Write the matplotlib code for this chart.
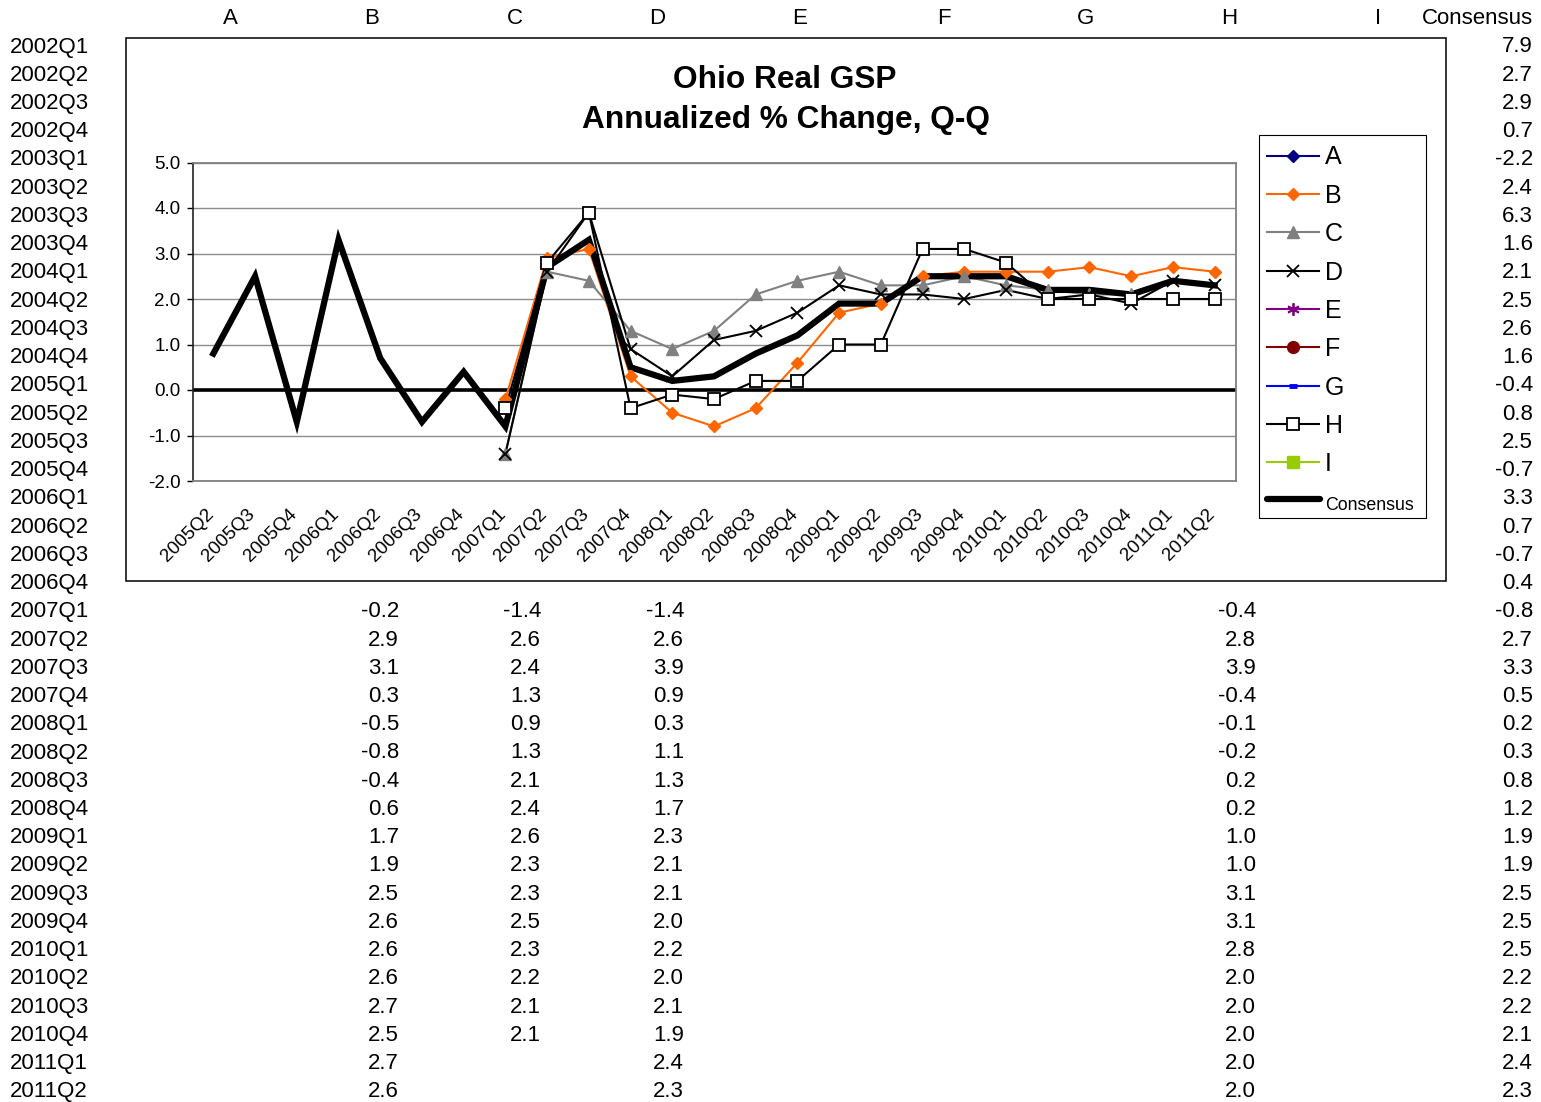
import matplotlib
matplotlib.use("Agg")
import matplotlib.pyplot as plt
import matplotlib.transforms as mtransforms
from matplotlib.patches import Rectangle
import numpy as np

plt.rcParams['font.family'] = ['Liberation Sans', 'DejaVu Sans']
plt.rcParams['axes.unicode_minus'] = False

# ---------------- data ----------------
quarters = ["2002Q1", "2002Q2", "2002Q3", "2002Q4", "2003Q1", "2003Q2", "2003Q3", "2003Q4",
            "2004Q1", "2004Q2", "2004Q3", "2004Q4", "2005Q1", "2005Q2", "2005Q3", "2005Q4",
            "2006Q1", "2006Q2", "2006Q3", "2006Q4", "2007Q1", "2007Q2", "2007Q3", "2007Q4",
            "2008Q1", "2008Q2", "2008Q3", "2008Q4", "2009Q1", "2009Q2", "2009Q3", "2009Q4",
            "2010Q1", "2010Q2", "2010Q3", "2010Q4", "2011Q1", "2011Q2"]
columns = ["A", "B", "C", "D", "E", "F", "G", "H", "I", "Consensus"]

consensus = [7.9, 2.7, 2.9, 0.7, -2.2, 2.4, 6.3, 1.6, 2.1, 2.5, 2.6, 1.6, -0.4, 0.8, 2.5, -0.7,
             3.3, 0.7, -0.7, 0.4, -0.8, 2.7, 3.3, 0.5, 0.2, 0.3, 0.8, 1.2, 1.9, 1.9, 2.5, 2.5,
             2.5, 2.2, 2.2, 2.1, 2.4, 2.3]
# forecasters, from 2007Q1 to 2011Q2
B = [-0.2, 2.9, 3.1, 0.3, -0.5, -0.8, -0.4, 0.6, 1.7, 1.9, 2.5, 2.6, 2.6, 2.6, 2.7, 2.5, 2.7, 2.6]
C = [-1.4, 2.6, 2.4, 1.3, 0.9, 1.3, 2.1, 2.4, 2.6, 2.3, 2.3, 2.5, 2.3, 2.2, 2.1, 2.1, None, None]
D = [-1.4, 2.6, 3.9, 0.9, 0.3, 1.1, 1.3, 1.7, 2.3, 2.1, 2.1, 2.0, 2.2, 2.0, 2.1, 1.9, 2.4, 2.3]
H = [-0.4, 2.8, 3.9, -0.4, -0.1, -0.2, 0.2, 0.2, 1.0, 1.0, 3.1, 3.1, 2.8, 2.0, 2.0, 2.0, 2.0, 2.0]

chart_start = "2005Q2"
fc_start = "2007Q1"

# ---------------- figure ----------------
W, Hpx = 1541, 1102
fig = plt.figure(figsize=(W / 100, Hpx / 100), dpi=100)
bg = fig.add_axes([0, 0, 1, 1])
bg.set_xlim(0, W)
bg.set_ylim(Hpx, 0)
bg.axis('off')

TFS = 16
row_y0, row_dy = 52.5, 28.24
head_base = 24.5
head_x = [230, 372, 515, 657, 800, 944, 1086, 1229, 1378, 1477]
for name, x in zip(columns, head_x):
    bg.text(x, head_base, name, fontsize=TFS, ha='center', va='baseline')
for i, q in enumerate(quarters):
    bg.text(10, row_y0 + row_dy * i, q, fontsize=TFS, ha='left', va='baseline')

def put_col(values, start_idx, xr):
    for k, v in enumerate(values):
        if v is None:
            continue
        bg.text(xr, row_y0 + row_dy * (start_idx + k), f"{v:.1f}", fontsize=TFS,
                ha='right', va='baseline')

fi = quarters.index(fc_start)
put_col(B, fi, 399)
put_col(C, fi, 541)
put_col(D, fi, 684)
put_col(H, fi, 1256)
put_col(consensus, 0, 1533)

# chart frame
bg.add_patch(Rectangle((126, 38), 1446 - 126, 581 - 38, facecolor='white',
                       edgecolor='black', lw=1.1, zorder=5))
bg.text(785, 88, "Ohio Real GSP", fontsize=22.8, fontweight='bold', ha='center',
        va='baseline', zorder=6)
bg.text(786, 128, "Annualized % Change, Q-Q", fontsize=22.8, fontweight='bold',
        ha='center', va='baseline', zorder=6)

# ---------------- chart axes ----------------
L, R, T, Bt = 192.5, 1235.5, 162.5, 481.0
ax = fig.add_axes([L / W, 1 - Bt / Hpx, (R - L) / W, (Bt - T) / Hpx])
ax.set_zorder(10)

ci = quarters.index(chart_start)
cats = quarters[ci:]
x = np.arange(len(cats))
cons_c = consensus[ci:]
off = fi - ci

def series(vals):
    y = np.full(len(cats), np.nan)
    for k, v in enumerate(vals):
        if v is not None:
            y[off + k] = v
    return y

ax.set_xlim(-0.5, len(cats) - 0.5)
ax.set_ylim(-2, 5)
yt = np.arange(-2, 6)
ax.set_yticks(yt)
ax.set_yticklabels([f"{v:.1f}" for v in yt], fontsize=13.5)
ax.yaxis.grid(True, color='#8c8c8c', lw=1.0)
ax.set_axisbelow(True)
ax.tick_params(axis='y', direction='out', length=4.5, width=1, pad=4, color='black')
ax.set_xticks(x)
ax.set_xticklabels(cats, fontsize=13.5, rotation=45, ha='right', va='top',
                   rotation_mode='anchor')
ax.tick_params(axis='x', length=0, pad=0)
offset = mtransforms.ScaledTranslation(-6 / 72, -18 / 72, fig.dpi_scale_trans)
for lab in ax.get_xticklabels():
    lab.set_transform(lab.get_transform() + offset)

for s in ['top', 'right', 'bottom']:
    ax.spines[s].set_color('#808080')
    ax.spines[s].set_linewidth(1.3)
ax.spines['left'].set_color('#222222')
ax.spines['left'].set_linewidth(1.2)

ax.axhline(0, color='black', lw=2.6, zorder=2.5)

styles = {
    'B': dict(color='#FF6600', marker='D', ms=6.5, mfc='#FF6600', mec='#FF6600'),
    'C': dict(color='#808080', marker='^', ms=8.5, mfc='#808080', mec='#808080'),
    'D': dict(color='black', marker='x', ms=8.5, mew=1.3, mec='black'),
    'H': dict(color='black', marker='s', ms=8, mfc='white', mec='black', mew=1.3),
}
for name, vals in [('B', B), ('C', C), ('D', D), ('H', H)]:
    st = dict(styles[name])
    y = series(vals)
    ax.plot(x, y, color=st['color'], lw=1.5, zorder=3)
    mk = {k: v for k, v in st.items() if k != 'color'}
    ax.plot(x, y, ls='none', zorder=5, **mk)
ax.plot(x, cons_c, color='black', lw=4.5, zorder=4, solid_joinstyle='miter')

# ---------------- legend ----------------
bg.add_patch(Rectangle((1259, 135), 1426 - 1259, 518 - 135, facecolor='white',
                       edgecolor='black', lw=0.8, zorder=6))
leg_styles = [
    ('A', dict(color='#000080', marker='D', ms=6.5, mfc='#000080', mec='#000080')),
    ('B', styles['B']),
    ('C', styles['C']),
    ('D', styles['D']),
    ('E', dict(color='#800080', marker=(6, 2, 0), ms=9, mew=1.3, mec='#800080')),
    ('F', dict(color='#800000', marker='o', ms=8.5, mfc='#800000', mec='#800000')),
    ('G', dict(color='#0000FF', marker='_', ms=6, mew=3.5, mec='#0000FF')),
    ('H', styles['H']),
    ('I', dict(color='#99CC00', marker='s', ms=8.5, mfc='#99CC00', mec='#99CC00')),
]
leg_y0, leg_dy = 155.5, 38.35
for k, (name, st) in enumerate(leg_styles):
    yy = leg_y0 + leg_dy * k
    bg.plot([1267, 1319], [yy, yy], color=st['color'], lw=1.5, zorder=7)
    mk = {kk: v for kk, v in st.items() if kk != 'color'}
    bg.plot([1293], [yy], ls='none', zorder=8, **mk)
    bg.text(1325, yy + 9, name, fontsize=18, ha='left', va='baseline', zorder=8)
yy = leg_y0 + leg_dy * 9 - 2
bg.plot([1267, 1320], [yy, yy], color='black', lw=4.5, solid_capstyle='round', zorder=7)
bg.text(1325, yy + 11, "Consensus", fontsize=12.8, ha='left', va='baseline', zorder=8)

fig.savefig("out.png", dpi=100)
